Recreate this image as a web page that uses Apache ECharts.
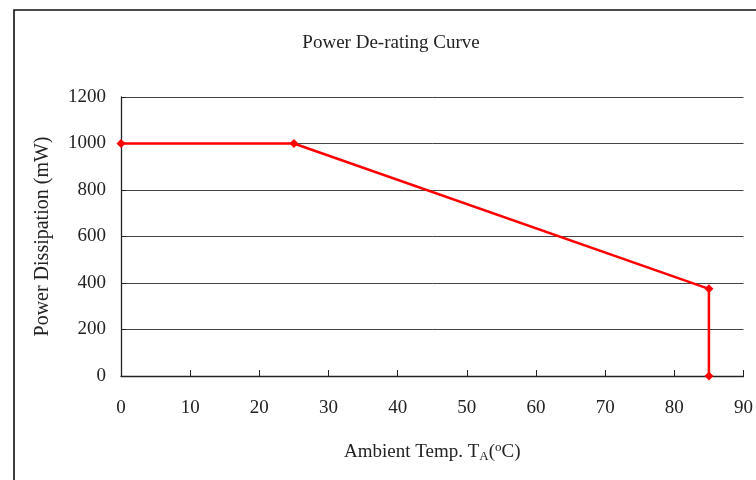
<!DOCTYPE html>
<html>
<head>
<meta charset="utf-8">
<script src="https://cdn.jsdelivr.net/npm/echarts@6/dist/echarts.min.js"></script>
<style>
  html, body { margin: 0; padding: 0; background: #fff; }
  #chart { width: 756px; height: 480px; }
</style>
</head>
<body>
<div id="chart"></div>
<script>
// derating curve points: temperature (°C) and power (mW)
const temps = [0, 25, 85, 85]
const power = [1000, 1000, 375, 0]
const xTicks = [0, 90, 10]   // min, max, step
const yTicks = [0, 1200, 200]

const serif = '"Liberation Serif", "DejaVu Serif", serif'
const points = temps.map((t, i) => [t, power[i]])

const chart = echarts.init(document.getElementById('chart'))

chart.setOption({
  animation: false,
  backgroundColor: '#fff',
  title: {
    text: 'Power De-rating Curve',
    left: 386,
    top: 29,
    textAlign: 'center',
    textStyle: { fontFamily: serif, fontSize: 19, fontWeight: 'normal', color: '#222' },
  },
  graphic: [
    {
      type: 'rect',
      shape: { x: 14, y: 10, width: 800, height: 520 },
      style: { fill: 'none', stroke: '#111', lineWidth: 1.6 },
      silent: true,
    },
  ],
  grid: { left: 121, right: 12, top: 97, bottom: 104 },
  xAxis: {
    type: 'value',
    min: xTicks[0],
    max: xTicks[1],
    interval: xTicks[2],
    name: 'Ambient Temp. T{sub|A}({sup|o}C)',
    nameLocation: 'middle',
    nameGap: 65,
    nameTextStyle: {
      fontFamily: serif,
      fontSize: 19,
      color: '#222',
      rich: {
        sub: { fontFamily: serif, fontSize: 13, color: '#222', verticalAlign: 'bottom', padding: [9, 0, 0, 0] },
        sup: { fontFamily: serif, fontSize: 13, color: '#222', verticalAlign: 'top', padding: [0, 0, 9, 0] },
      },
    },
    axisLine: { lineStyle: { color: '#222', width: 1.3 } },
    axisTick: { inside: true, length: 6, lineStyle: { color: '#222' } },
    axisLabel: { fontFamily: serif, fontSize: 19, color: '#222', margin: 23 },
    splitLine: { show: false },
  },
  yAxis: {
    type: 'value',
    min: yTicks[0],
    max: yTicks[1],
    interval: yTicks[2],
    name: 'Power Dissipation (mW)',
    nameLocation: 'middle',
    nameGap: 68,
    nameTextStyle: { fontFamily: serif, fontSize: 20, color: '#222' },
    axisLine: { show: true, lineStyle: { color: '#222', width: 1.3 } },
    axisTick: { show: true, inside: true, length: 5, lineStyle: { color: '#222' } },
    axisLabel: { fontFamily: serif, fontSize: 19, color: '#222', margin: 15, formatter: v => String(v) },
    splitLine: { lineStyle: { color: '#444', width: 1 } },
  },
  series: [
    {
      type: 'line',
      data: points,
      symbol: 'diamond',
      symbolSize: 9,
      lineStyle: { color: '#ff0000', width: 2.5 },
      itemStyle: { color: '#ff0000' },
      clip: false,
    },
  ],
})
</script>
</body>
</html>
